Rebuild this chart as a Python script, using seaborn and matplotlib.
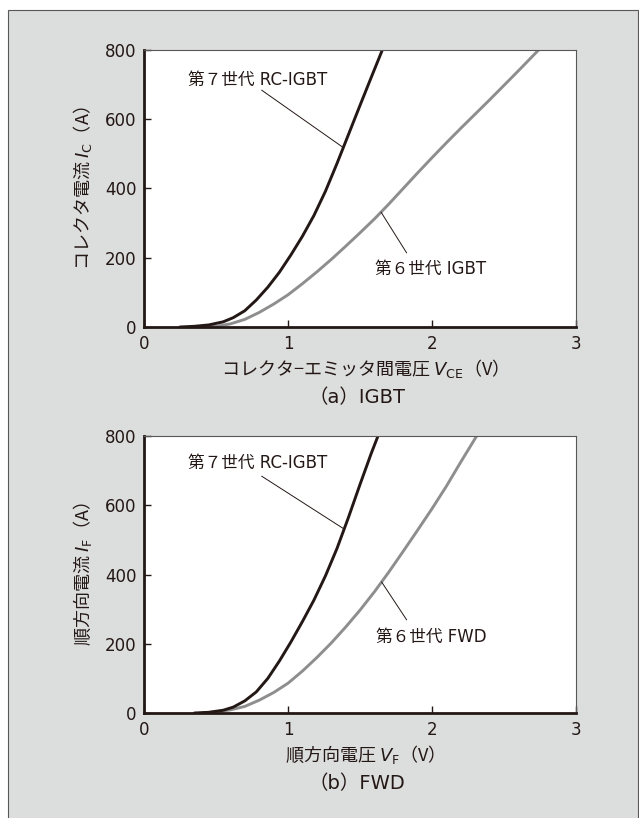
import numpy as np
import pandas as pd
import matplotlib
matplotlib.use("Agg")
import matplotlib.pyplot as plt
import seaborn as sns
from matplotlib.patches import Rectangle

# ---------------- data ----------------
# (a) IGBT : 7th gen RC-IGBT
igbt7_v = [0.25, 0.35, 0.45, 0.55, 0.62, 0.70, 0.78, 0.86, 0.94, 1.02, 1.10,
           1.18, 1.26, 1.34, 1.42, 1.50, 1.58, 1.655]
igbt7_i = [0, 2, 6, 15, 27, 47, 78, 115, 158, 208, 262,
           322, 392, 472, 556, 640, 723, 800]
# (a) IGBT : 6th gen IGBT
igbt6_v = [0.42, 0.50, 0.60, 0.70, 0.80, 0.90, 1.00, 1.10, 1.20, 1.30, 1.40,
           1.50, 1.60, 1.70, 1.80, 1.90, 2.00, 2.10, 2.20, 2.30, 2.40, 2.50,
           2.60, 2.74]
igbt6_i = [0, 2, 9, 22, 42, 66, 93, 125, 159, 195, 233,
           272, 312, 355, 400, 445, 489, 532, 574, 615, 656, 698,
           740, 800]
# (b) FWD : 7th gen RC-IGBT
fwd7_v = [0.35, 0.45, 0.55, 0.62, 0.70, 0.78, 0.86, 0.94, 1.02, 1.10, 1.18,
          1.26, 1.34, 1.42, 1.50, 1.58, 1.625]
fwd7_i = [0, 2, 8, 17, 35, 61, 100, 150, 205, 264, 326,
          396, 475, 565, 660, 752, 800]
# (b) FWD : 6th gen FWD
fwd6_v = [0.40, 0.50, 0.60, 0.70, 0.80, 0.90, 1.00, 1.10, 1.20, 1.30, 1.40,
          1.50, 1.60, 1.70, 1.80, 1.90, 2.00, 2.10, 2.20, 2.31]
fwd6_i = [0, 3, 9, 19, 37, 59, 86, 121, 160, 202, 248,
          297, 350, 407, 467, 528, 590, 655, 725, 800]

x_ticks = [0, 1, 2, 3]
y_ticks = [0, 200, 400, 600, 800]

labels_a = ["第７世代 RC-IGBT", "第６世代 IGBT"]
labels_b = ["第７世代 RC-IGBT", "第６世代 FWD"]

# ---------------- style ----------------
INK = "#231815"
GRAY_LINE = "#8e8e8e"
BG = "#dcdddd"
CJK = ["Noto Sans CJK JP", "DejaVu Sans"]

sns.set_style("ticks")
plt.rcParams["font.family"] = ["DejaVu Sans", "Noto Sans CJK JP"]
plt.rcParams["text.color"] = INK
plt.rcParams["axes.labelcolor"] = INK
plt.rcParams["xtick.color"] = INK
plt.rcParams["ytick.color"] = INK

fig = plt.figure(figsize=(6.39, 8.18), dpi=100)
fig.patch.set_facecolor("white")
fig.patches.append(Rectangle((8 / 639, -0.02), 630 / 639, (1 - 10 / 818) + 0.02,
                             transform=fig.transFigure, facecolor=BG,
                             edgecolor="#595757", linewidth=0.8, zorder=-5))

W, H = 639, 818
ax1 = fig.add_axes([144 / W, 1 - 327 / H, 432 / W, 277 / H])
ax2 = fig.add_axes([144 / W, 1 - 713 / H, 432 / W, 277 / H])
ax1.set_zorder(2)
ax2.set_zorder(2)


def draw_panel(ax, v7, i7, v6, i6, names, xlabel, ylabel, caption, cap_y,
               t7, lead7, t6, lead6):
    df = pd.concat([
        pd.DataFrame({"V": v6, "I": i6, "series": names[1]}),
        pd.DataFrame({"V": v7, "I": i7, "series": names[0]}),
    ])
    sns.lineplot(data=df, x="V", y="I", hue="series",
                 palette={names[0]: INK, names[1]: GRAY_LINE},
                 linewidth=2.1, sort=False, estimator=None, legend=False, ax=ax)
    for ln in ax.lines:
        ln.set_solid_joinstyle("round")
    ax.set_facecolor("white")
    ax.set_xlim(0, 3)
    ax.set_ylim(0, 800)
    ax.set_xticks(x_ticks)
    ax.set_yticks(y_ticks)
    ax.set_xticklabels([str(t) for t in x_ticks])
    ax.set_yticklabels([str(t) for t in y_ticks])
    for s in ["left", "bottom"]:
        ax.spines[s].set_linewidth(2.0)
        ax.spines[s].set_color(INK)
    for s in ["top", "right"]:
        ax.spines[s].set_visible(True)
        ax.spines[s].set_linewidth(0.8)
        ax.spines[s].set_color("#595757")
    ax.tick_params(direction="in", length=5, width=1.0, labelsize=12,
                   top=False, right=False)
    ax.tick_params(axis="y", pad=5.5)
    ax.tick_params(axis="x", pad=5.5)
    ax.set_xlabel(xlabel, fontsize=13, family=CJK)
    ax.set_ylabel(ylabel, fontsize=13, family=CJK)
    ax.xaxis.set_label_coords(0.5, -0.11)
    ax.yaxis.set_label_coords(-0.116, 0.5)

    # annotations
    ax.text(t7[0], t7[1], names[0], ha="left", va="center", fontsize=12)
    ax.annotate("", xy=(lead7[1], np.interp(lead7[1], v7, i7)),
                xytext=lead7[0],
                arrowprops=dict(arrowstyle="-", lw=0.7, color=INK,
                                shrinkA=0, shrinkB=0))
    ax.text(t6[0], t6[1], names[1], ha="left", va="center", fontsize=12)
    ax.annotate("", xy=(lead6[1], np.interp(lead6[1], v6, i6)),
                xytext=lead6[0],
                arrowprops=dict(arrowstyle="-", lw=0.7, color=INK,
                                shrinkA=0, shrinkB=0))
    fig.text(357 / W, cap_y, caption, ha="center", va="center", fontsize=14)


draw_panel(ax1, igbt7_v, igbt7_i, igbt6_v, igbt6_i, labels_a,
           "コレクタ−エミッタ間電圧 $V_\\mathrm{CE}$（V）",
           "コレクタ電流 $I_\\mathrm{C}$（A）",
           "（a）IGBT", 1 - 398 / H,
           (0.306, 713), ((0.817, 684), 1.384),
           (1.604, 168), ((1.824, 214), 1.646))

draw_panel(ax2, fwd7_v, fwd7_i, fwd6_v, fwd6_i, labels_b,
           "順方向電圧 $V_\\mathrm{F}$（V）",
           "順方向電流 $I_\\mathrm{F}$（A）",
           "（b）FWD", 1 - 784 / H,
           (0.306, 722), ((0.817, 684), 1.39),
           (1.611, 220), ((1.824, 269), 1.65))

fig.savefig("out.png", dpi=100, facecolor=fig.get_facecolor())
